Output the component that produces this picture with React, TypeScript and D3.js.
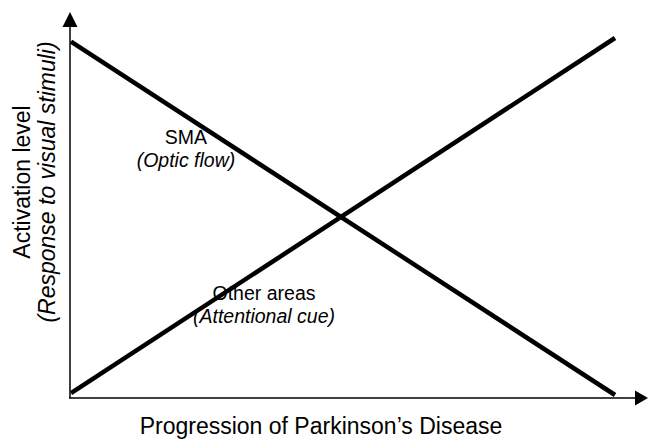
import React, { useEffect, useRef } from "react";
import * as d3 from "d3";

// Progression stages (start / end) and activation values of each series
const progression = [0, 10];
const smaValues = [9.9, 0];
const otherValues = [0.05, 10];

const seriesNames = ["SMA", "Other areas"];
const seriesNotes = ["(Optic flow)", "(Attentional cue)"];

const xTitle = "Progression of Parkinson\u2019s Disease";
const yTitle = "Activation level";
const yNote = "(Response to visual stimuli)";

const width = 648;
const height = 441;

const App: React.FC = () => {
  const svgRef = useRef<SVGSVGElement | null>(null);

  useEffect(() => {
    const svg = d3.select(svgRef.current);
    svg.selectAll("*").remove();

    const font = "Liberation Sans, Arial, sans-serif";
    const originX = 70;
    const originY = 398;

    const x = d3.scaleLinear().domain([0, 10]).range([71, 615]);
    const y = d3.scaleLinear().domain([0, 10]).range([395, 38]);

    // axes with arrow heads
    svg
      .append("line")
      .attr("x1", originX)
      .attr("y1", originY)
      .attr("x2", originX)
      .attr("y2", 26)
      .attr("stroke", "#000")
      .attr("stroke-width", 1.5);
    svg
      .append("line")
      .attr("x1", originX - 1)
      .attr("y1", originY)
      .attr("x2", 637)
      .attr("y2", originY)
      .attr("stroke", "#000")
      .attr("stroke-width", 1.5);
    svg
      .append("path")
      .attr("d", `M${originX},12 L${originX - 7.5},27 L${originX + 7.5},27 Z`)
      .attr("fill", "#000");
    svg
      .append("path")
      .attr("d", `M648,${originY} L635,${originY - 7.5} L635,${originY + 7.5} Z`)
      .attr("fill", "#000");

    const line = d3
      .line<number>()
      .x((_, i) => x(progression[i]))
      .y((d) => y(d));

    [smaValues, otherValues].forEach((vals) => {
      svg
        .append("path")
        .attr("d", line(vals))
        .attr("fill", "none")
        .attr("stroke", "#000")
        .attr("stroke-width", 4.5);
    });

    // series labels
    const labels = [
      { x: 186, y: 144 },
      { x: 264, y: 300 },
    ];
    labels.forEach((p, i) => {
      svg
        .append("text")
        .attr("x", p.x)
        .attr("y", p.y)
        .attr("text-anchor", "middle")
        .attr("font-family", font)
        .attr("font-size", 19.5)
        .text(seriesNames[i]);
      svg
        .append("text")
        .attr("x", p.x)
        .attr("y", p.y + 23)
        .attr("text-anchor", "middle")
        .attr("font-family", font)
        .attr("font-size", 19.5)
        .attr("font-style", "italic")
        .text(seriesNotes[i]);
    });

    // axis titles
    svg
      .append("text")
      .attr("x", 321)
      .attr("y", 434)
      .attr("text-anchor", "middle")
      .attr("font-family", font)
      .attr("font-size", 23)
      .text(xTitle);

    const yt = svg.append("g").attr("transform", "translate(30,182) rotate(-90)");
    yt.append("text")
      .attr("x", 0)
      .attr("y", 0)
      .attr("text-anchor", "middle")
      .attr("font-family", font)
      .attr("font-size", 23)
      .text(yTitle);
    yt.append("text")
      .attr("x", 0)
      .attr("y", 25)
      .attr("text-anchor", "middle")
      .attr("font-family", font)
      .attr("font-size", 23)
      .attr("font-style", "italic")
      .text(yNote);
  }, []);

  return (
    <svg
      ref={svgRef}
      width={width}
      height={height}
      style={{ position: "absolute", left: 0, top: 0, background: "#fff" }}
    />
  );
};

export default App;
